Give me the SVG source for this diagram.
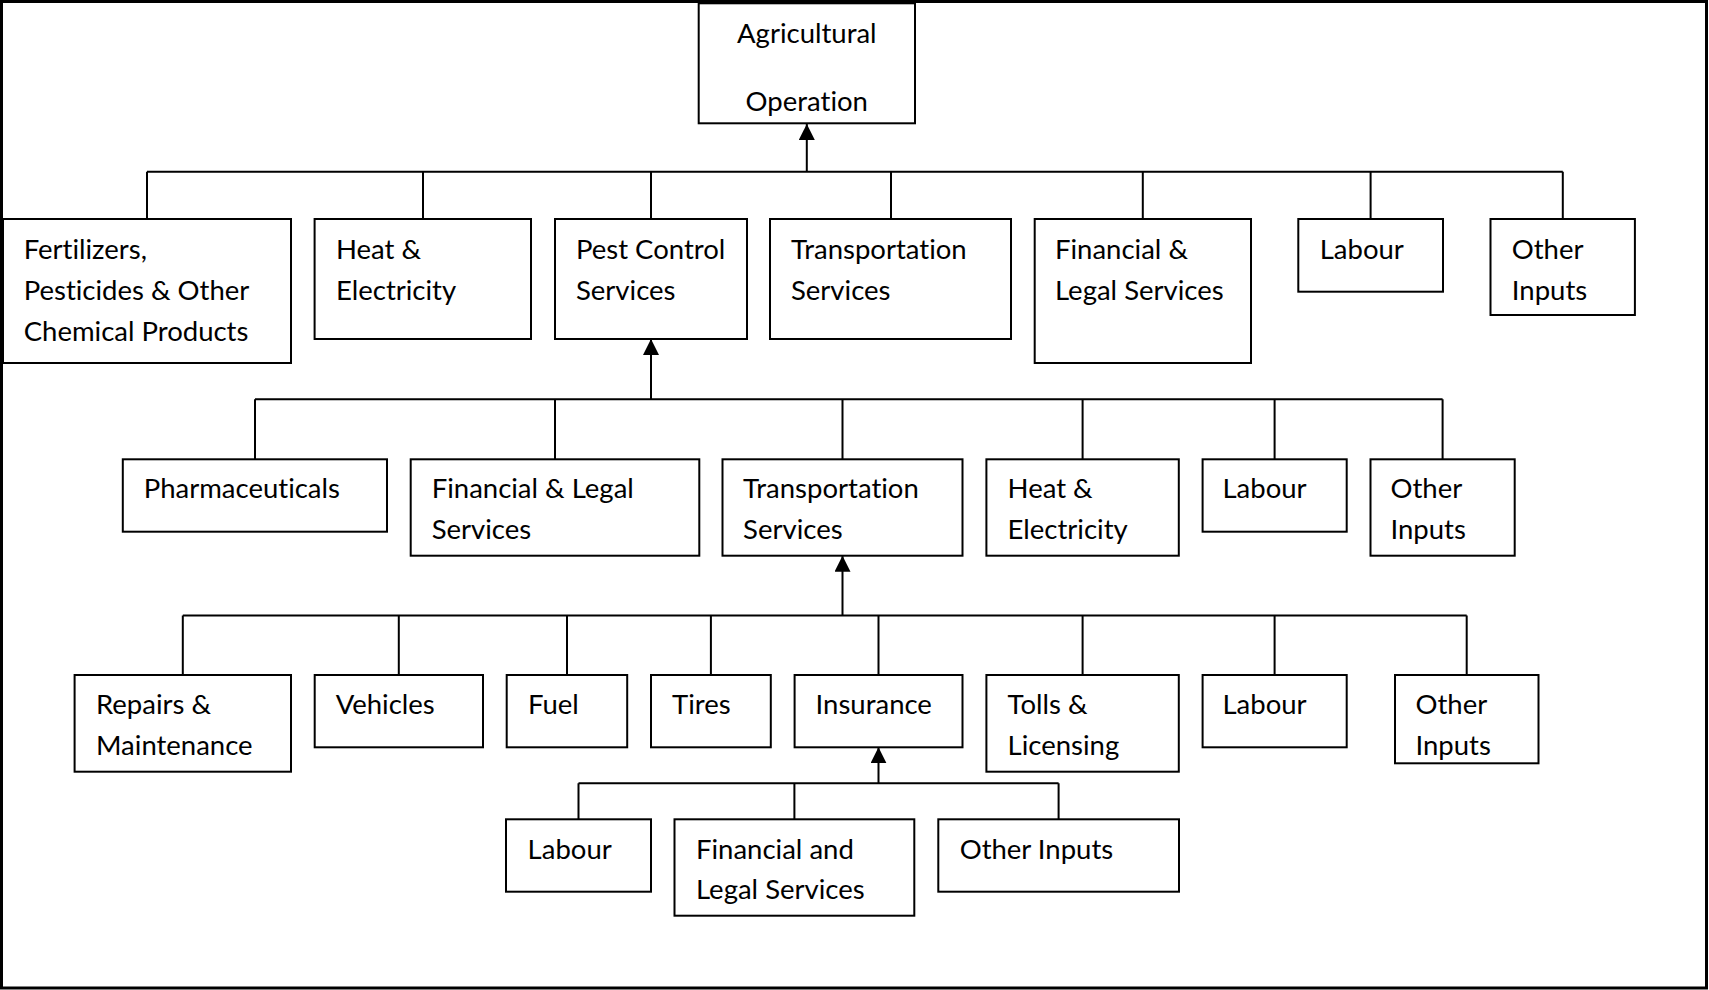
<svg xmlns="http://www.w3.org/2000/svg" width="1709" height="990" viewBox="0 0 1709 990">
<style>
.box{fill:#fff;stroke:#000;stroke-width:2}
.t{font-family:Lato,"Liberation Sans",sans-serif;font-size:27.5px;fill:#000;font-variant-ligatures:none}
.c{fill:none;stroke:#000;stroke-width:2}
</style>
<defs>
<marker id="ah" viewBox="0 0 16 16" refX="16" refY="8" markerWidth="16" markerHeight="16" markerUnits="userSpaceOnUse" orient="auto">
<path d="M0,0 L16,8 L0,16 z" fill="#000"/>
</marker>
</defs>
<rect x="1.5" y="1.5" width="1705" height="986.5" fill="#fff" stroke="#000" stroke-width="3"/>
<g id="connectors">
<path class="c" d="M147,171.7 H1562.8 M147,171.7 V219 M423,171.7 V219 M651,171.7 V219 M891,171.7 V219 M1142.8,171.7 V219 M1370.6,171.7 V219 M1562.8,171.7 V219"/>
<line class="c" x1="806.8" y1="171.7" x2="806.8" y2="124" marker-end="url(#ah)"/>
<path class="c" d="M255,399.3 H1442.6 M255,399.3 V459.3 M555,399.3 V459.3 M842.5,399.3 V459.3 M1082.6,399.3 V459.3 M1274.6,399.3 V459.3 M1442.6,399.3 V459.3"/>
<line class="c" x1="651" y1="399.3" x2="651" y2="339" marker-end="url(#ah)"/>
<path class="c" d="M182.8,615.5 H1466.7 M182.8,615.5 V675 M398.8,615.5 V675 M567,615.5 V675 M710.9,615.5 V675 M878.5,615.5 V675 M1082.6,615.5 V675 M1274.6,615.5 V675 M1466.7,615.5 V675"/>
<line class="c" x1="842.5" y1="615.5" x2="842.5" y2="555.7" marker-end="url(#ah)"/>
<path class="c" d="M578.5,783.3 H1058.6 M578.5,783.3 V819.3 M794.4,783.3 V819.3 M1058.6,783.3 V819.3"/>
<line class="c" x1="878.5" y1="783.3" x2="878.5" y2="747.3" marker-end="url(#ah)"/>
</g>
<g id="agri"><rect class="box" x="698.7" y="3.3" width="216.3" height="120"/><text class="t" x="806.8" y="43" text-anchor="middle">Agricultural</text><text class="t" x="806.8" y="111" text-anchor="middle">Operation</text></g>
<g id="l1-fert"><rect class="box" x="3" y="219" width="288" height="144"/><text class="t" x="23.7" y="259">Fertilizers,</text><text class="t" x="23.7" y="300">Pesticides &amp; Other</text><text class="t" x="23.7" y="341">Chemical Products</text></g>
<g id="l1-heat"><rect class="box" x="314.6" y="219" width="216.4" height="120"/><text class="t" x="336" y="259">Heat &amp;</text><text class="t" x="336" y="300">Electricity</text></g>
<g id="l1-pest"><rect class="box" x="555" y="219" width="192" height="120"/><text class="t" x="576" y="259">Pest Control</text><text class="t" x="576" y="300">Services</text></g>
<g id="l1-trans"><rect class="box" x="770" y="219" width="241" height="120"/><text class="t" x="791" y="259">Transportation</text><text class="t" x="791" y="300">Services</text></g>
<g id="l1-fin"><rect class="box" x="1034.7" y="219" width="216.3" height="144"/><text class="t" x="1055" y="259">Financial &amp;</text><text class="t" x="1055" y="300">Legal Services</text></g>
<g id="l1-labour"><rect class="box" x="1298.3" y="219" width="144.7" height="72.7"/><text class="t" x="1319.7" y="259">Labour</text></g>
<g id="l1-other"><rect class="box" x="1490.5" y="219" width="144.4" height="96"/><text class="t" x="1511.8" y="259">Other</text><text class="t" x="1511.8" y="300">Inputs</text></g>
<g id="l2-pharma"><rect class="box" x="122.8" y="459.3" width="264.2" height="72.4"/><text class="t" x="143.8" y="498.3">Pharmaceuticals</text></g>
<g id="l2-fin"><rect class="box" x="410.7" y="459.3" width="288.6" height="96.4"/><text class="t" x="431.7" y="498.3">Financial &amp; Legal</text><text class="t" x="431.7" y="538.7">Services</text></g>
<g id="l2-trans"><rect class="box" x="722.5" y="459.3" width="240" height="96.4"/><text class="t" x="743.1" y="498.3">Transportation</text><text class="t" x="743.1" y="538.7">Services</text></g>
<g id="l2-heat"><rect class="box" x="986.4" y="459.3" width="192.4" height="96.4"/><text class="t" x="1007.6" y="498.3">Heat &amp;</text><text class="t" x="1007.6" y="538.7">Electricity</text></g>
<g id="l2-labour"><rect class="box" x="1202.6" y="459.3" width="144.1" height="72.4"/><text class="t" x="1222.5" y="498.3">Labour</text></g>
<g id="l2-other"><rect class="box" x="1370.5" y="459.3" width="144.2" height="96.4"/><text class="t" x="1390.5" y="498.3">Other</text><text class="t" x="1390.5" y="538.7">Inputs</text></g>
<g id="l3-repairs"><rect class="box" x="74.6" y="675" width="216.4" height="96.7"/><text class="t" x="96" y="714.3">Repairs &amp;</text><text class="t" x="96" y="755">Maintenance</text></g>
<g id="l3-vehicles"><rect class="box" x="314.7" y="675" width="168.3" height="72.3"/><text class="t" x="335.7" y="714.3">Vehicles</text></g>
<g id="l3-fuel"><rect class="box" x="506.7" y="675" width="120.5" height="72.3"/><text class="t" x="528" y="714.3">Fuel</text></g>
<g id="l3-tires"><rect class="box" x="651" y="675" width="119.8" height="72.3"/><text class="t" x="672" y="714.3">Tires</text></g>
<g id="l3-insurance"><rect class="box" x="794.6" y="675" width="167.9" height="72.3"/><text class="t" x="815.6" y="714.3">Insurance</text></g>
<g id="l3-tolls"><rect class="box" x="986.4" y="675" width="192.4" height="96.7"/><text class="t" x="1007.6" y="714.3">Tolls &amp;</text><text class="t" x="1007.6" y="755">Licensing</text></g>
<g id="l3-labour"><rect class="box" x="1202.6" y="675" width="144.1" height="72.3"/><text class="t" x="1222.5" y="714.3">Labour</text></g>
<g id="l3-other"><rect class="box" x="1395" y="675" width="143.5" height="88.3"/><text class="t" x="1415.5" y="714.3">Other</text><text class="t" x="1415.5" y="755">Inputs</text></g>
<g id="l4-labour"><rect class="box" x="506" y="819.3" width="145" height="72.4"/><text class="t" x="527.6" y="859.3">Labour</text></g>
<g id="l4-fin"><rect class="box" x="674.5" y="819.3" width="239.8" height="96.4"/><text class="t" x="696" y="859.3">Financial and</text><text class="t" x="696" y="899.3">Legal Services</text></g>
<g id="l4-other"><rect class="box" x="938.3" y="819.3" width="240.7" height="72.4"/><text class="t" x="959.7" y="859.3">Other Inputs</text></g>
</svg>
